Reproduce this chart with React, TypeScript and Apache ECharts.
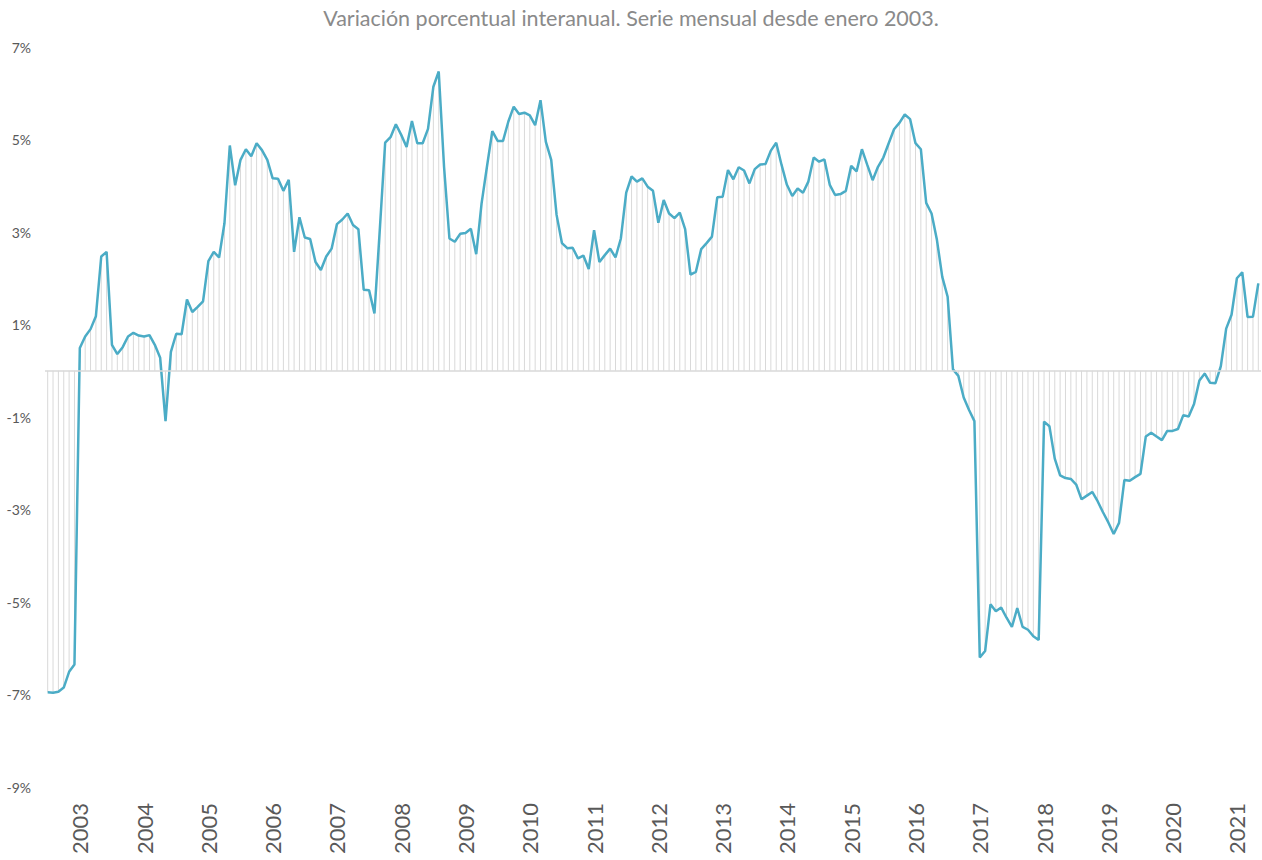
import React, { useEffect, useRef } from "react";
import * as echarts from "echarts";

const TITLE = "Variación porcentual interanual. Serie mensual desde enero 2003.";
const START_YEAR = 2003;

// Monthly year-on-year variation (%), one array per year (Jan..Dec)
const v2003 = [-6.95, -6.96, -6.94, -6.85, -6.51, -6.35, 0.49, 0.74, 0.9, 1.18, 2.47, 2.57];
const v2004 = [0.56, 0.36, 0.51, 0.74, 0.82, 0.76, 0.74, 0.77, 0.56, 0.28, -1.09, 0.41];
const v2005 = [0.8, 0.79, 1.54, 1.27, 1.38, 1.5, 2.37, 2.57, 2.45, 3.19, 4.87, 4.01];
const v2006 = [4.56, 4.79, 4.64, 4.92, 4.77, 4.56, 4.16, 4.15, 3.89, 4.13, 2.57, 3.32];
const v2007 = [2.88, 2.85, 2.35, 2.18, 2.47, 2.64, 3.17, 3.27, 3.4, 3.15, 3.06, 1.75];
const v2008 = [1.74, 1.24, 3.05, 4.93, 5.05, 5.33, 5.1, 4.84, 5.4, 4.92, 4.92, 5.23];
const v2009 = [6.14, 6.47, 4.4, 2.86, 2.79, 2.96, 2.98, 3.07, 2.52, 3.62, 4.41, 5.18];
const v2010 = [4.97, 4.97, 5.39, 5.71, 5.55, 5.58, 5.52, 5.31, 5.85, 4.95, 4.56, 3.37];
const v2011 = [2.76, 2.65, 2.66, 2.43, 2.49, 2.2, 3.04, 2.35, 2.5, 2.64, 2.45, 2.86];
const v2012 = [3.85, 4.2, 4.09, 4.16, 3.98, 3.89, 3.2, 3.69, 3.4, 3.3, 3.42, 3.06];
const v2013 = [2.08, 2.14, 2.63, 2.76, 2.9, 3.75, 3.76, 4.34, 4.14, 4.4, 4.33, 4.05];
const v2014 = [4.36, 4.46, 4.47, 4.76, 4.93, 4.45, 4.02, 3.78, 3.94, 3.85, 4.09, 4.61];
const v2015 = [4.52, 4.57, 4.02, 3.8, 3.82, 3.89, 4.43, 4.31, 4.79, 4.45, 4.12, 4.41];
const v2016 = [4.61, 4.92, 5.22, 5.36, 5.54, 5.44, 4.92, 4.79, 3.63, 3.4, 2.83, 2.03];
const v2017 = [1.6, 0.03, -0.11, -0.58, -0.85, -1.09, -6.2, -6.06, -5.05, -5.2, -5.12, -5.34];
const v2018 = [-5.54, -5.13, -5.54, -5.6, -5.74, -5.82, -1.1, -1.2, -1.9, -2.26, -2.32, -2.34];
const v2019 = [-2.46, -2.78, -2.7, -2.62, -2.82, -3.06, -3.28, -3.53, -3.29, -2.36, -2.38, -2.3];
const v2020 = [-2.23, -1.42, -1.34, -1.42, -1.5, -1.3, -1.3, -1.26, -0.96, -0.99, -0.72, -0.21];
const v2021 = [-0.06, -0.26, -0.27, 0.1, 0.91, 1.21, 2.0, 2.13, 1.16, 1.17, 1.89];

const yearly = [v2003, v2004, v2005, v2006, v2007, v2008, v2009, v2010, v2011, v2012,
  v2013, v2014, v2015, v2016, v2017, v2018, v2019, v2020, v2021];

// Y tick labels shown (odd percentages)
const Y_LABELS = [-9, -7, -5, -3, -1, 1, 3, 5, 7];

const values: number[] = [];
const categories: string[] = [];
yearly.forEach((arr, yi) => {
  arr.forEach((v, mi) => {
    values.push(v);
    categories.push(`${START_YEAR + yi}-${String(mi + 1).padStart(2, "0")}`);
  });
});

const FONT = "Lato, 'Open Sans', sans-serif";

export default function App() {
  const ref = useRef<HTMLDivElement>(null);
  useEffect(() => {
    if (!ref.current) return;
    const chart = echarts.init(ref.current, undefined, { renderer: "svg" });
    chart.setOption({
      animation: false,
      backgroundColor: "#ffffff",
      title: {
        text: TITLE,
        left: "center",
        top: 2,
        textStyle: { fontFamily: FONT, fontSize: 21.5, fontWeight: "normal", color: "#8a8a8a" },
      },
      grid: { left: 45, right: 1, top: 47, bottom: 73, containLabel: false },
      xAxis: {
        type: "category",
        data: categories,
        boundaryGap: true,
        axisLine: { show: false },
        axisTick: { show: false },
        splitLine: { show: false },
        axisLabel: {
          interval: (index: number) => index % 12 === 6,
          formatter: (val: string) => val.slice(0, 4),
          rotate: 90,
          margin: 16,
          fontFamily: FONT,
          fontSize: 22,
          color: "#595959",
        },
      },
      yAxis: {
        type: "value",
        min: -9,
        max: 7,
        interval: 1,
        axisLine: { show: false },
        axisTick: { show: false },
        splitLine: { show: false },
        axisLabel: {
          margin: 14,
          fontFamily: FONT,
          fontSize: 14,
          color: "#595959",
          formatter: (v: number) => (Y_LABELS.includes(Math.round(v)) ? `${Math.round(v)}%` : ""),
        },
      },
      series: [
        {
          type: "bar",
          data: values,
          barWidth: 1,
          itemStyle: { color: "#d9d9d9" },
          silent: true,
          z: 1,
          markLine: {
            silent: true,
            symbol: "none",
            label: { show: false },
            lineStyle: { color: "#d9d9d9", width: 1.5, type: "solid" },
            data: [{ yAxis: 0 }],
          },
        },
        {
          type: "line",
          data: values,
          symbol: "none",
          lineStyle: { color: "#4bacc6", width: 2.5 },
          itemStyle: { color: "#4bacc6" },
          z: 3,
        },
      ],
    });
    return () => chart.dispose();
  }, []);
  return (
    <div
      ref={ref}
      style={{ position: "absolute", left: 0, top: 0, width: 1262, height: 860 }}
    />
  );
}
